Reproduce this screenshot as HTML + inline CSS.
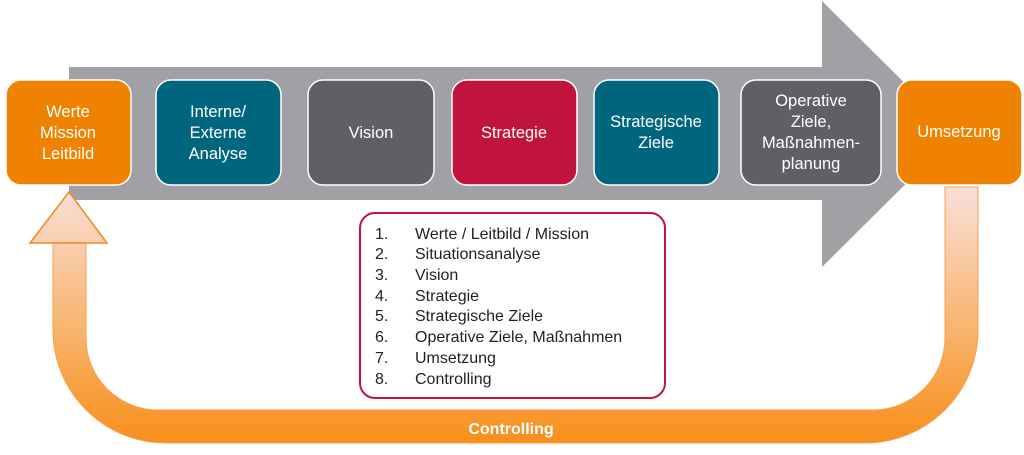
<!DOCTYPE html>
<html><head><meta charset="utf-8"><style>
html,body{margin:0;padding:0;background:#fff;}
svg text{font-family:"Liberation Sans","DejaVu Sans",sans-serif;}
</style></head><body>
<svg width="1024" height="450" viewBox="0 0 1024 450" xmlns="http://www.w3.org/2000/svg">
<defs>
<linearGradient id="g" x1="0" y1="187" x2="0" y2="443" gradientUnits="userSpaceOnUse">
<stop offset="0" stop-color="#f9e0da"/>
<stop offset="0.5" stop-color="#f8b878"/>
<stop offset="1" stop-color="#f78f1a"/>
</linearGradient>
</defs>
<polygon points="69,67 822,67 822,1 956,134 822,267 822,200 69,200" fill="#a1a1a5"/>
<path d="M53,243 L53,330 A113,113 0 0 0 166,443 L865,443 A113,113 0 0 0 978,330 L978,187 L945,187 L945,338 A72,72 0 0 1 873,410 L158,410 A72,72 0 0 1 86,338 L86,243 Z" fill="url(#g)" stroke="#f7a050" stroke-width="1"/>
<polygon points="30,243 69,192 107,243" fill="url(#g)" stroke="#f08a20" stroke-width="1.5"/>
<g stroke="#ffffff" stroke-width="1.5">
<rect x="6" y="80" width="125" height="105" rx="15" fill="#ef8200"/>
<rect x="156" y="80" width="125" height="105" rx="15" fill="#00667e"/>
<rect x="308" y="80" width="126" height="105" rx="15" fill="#606064"/>
<rect x="452" y="80" width="125" height="105" rx="15" fill="#c0143c"/>
<rect x="594" y="80" width="125" height="105" rx="15" fill="#00667e"/>
<rect x="741" y="80" width="140" height="105" rx="15" fill="#606064"/>
<rect x="897" y="80" width="125" height="105" rx="15" fill="#ef8200"/>
</g>
<g fill="#fff" font-size="16.5" text-anchor="middle">
<text x="68" y="117">Werte</text><text x="68" y="138">Mission</text><text x="68" y="159">Leitbild</text>
<text x="218" y="117">Interne/</text><text x="218" y="138">Externe</text><text x="218" y="159">Analyse</text>
<text x="371" y="138">Vision</text>
<text x="514" y="138">Strategie</text>
<text x="656" y="127">Strategische</text><text x="656" y="148">Ziele</text>
<text x="811" y="106">Operative</text><text x="811" y="127">Ziele,</text><text x="811" y="148">Maßnahmen-</text><text x="811" y="169">planung</text>
<text x="959" y="137">Umsetzung</text>
</g>
<rect x="360" y="213" width="305" height="185" rx="15" fill="#fff" stroke="#c0143c" stroke-width="2"/>
<g fill="#222" font-size="16">
<text x="375" y="239">1.</text><text x="415" y="239">Werte / Leitbild / Mission</text>
<text x="375" y="259">2.</text><text x="415" y="259">Situationsanalyse</text>
<text x="375" y="280">3.</text><text x="415" y="280">Vision</text>
<text x="375" y="301">4.</text><text x="415" y="301">Strategie</text>
<text x="375" y="321">5.</text><text x="415" y="321">Strategische Ziele</text>
<text x="375" y="342">6.</text><text x="415" y="342">Operative Ziele, Maßnahmen</text>
<text x="375" y="363">7.</text><text x="415" y="363">Umsetzung</text>
<text x="375" y="384">8.</text><text x="415" y="384">Controlling</text>
</g>
<text x="511" y="434" fill="#fff" font-size="16" font-weight="bold" text-anchor="middle">Controlling</text>
</svg>
</body></html>
